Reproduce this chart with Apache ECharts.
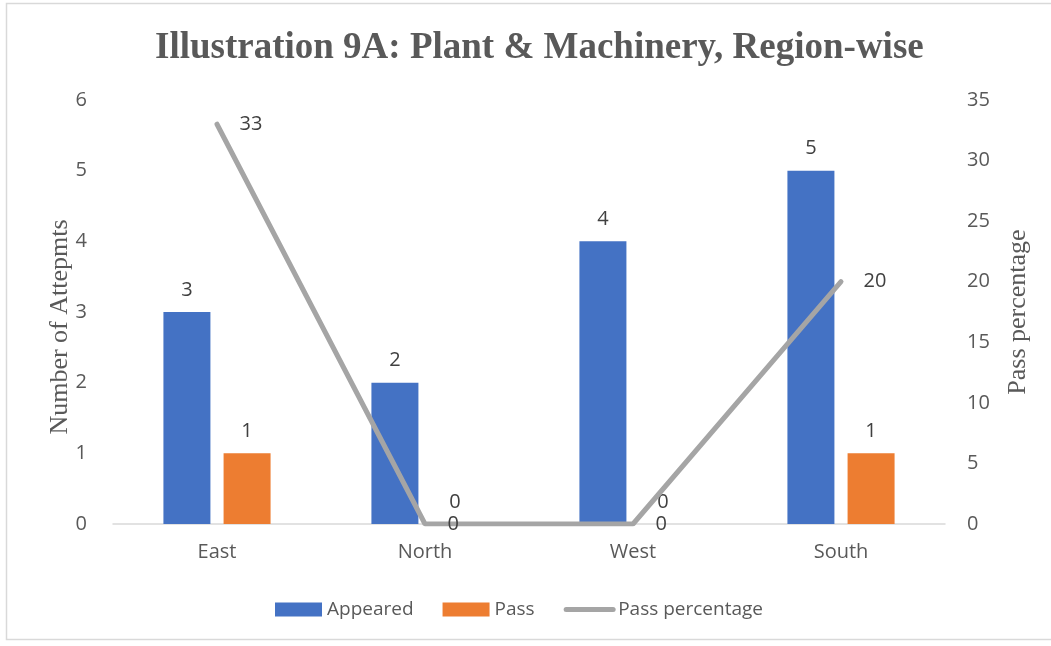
<!DOCTYPE html>
<html>
<head>
<meta charset="utf-8">
<script src="https://cdn.jsdelivr.net/npm/echarts@6/dist/echarts.min.js"></script>
<style>
  html, body { margin: 0; padding: 0; background: #fff; }
  #chart { width: 1051px; height: 646px; }
</style>
</head>
<body>
<div id="chart"></div>
<script>
// data
const regions = ['East', 'North', 'West', 'South']
const appeared = [3, 2, 4, 5]
const pass = [1, 0, 0, 1]
const passPercentage = [33, 0, 0, 20]

const textColor = '#595959'
const labelColor = '#404040'
const sansFont = '"Open Sans", "Liberation Sans", sans-serif'
const serifFont = '"Liberation Serif", "DejaVu Serif", serif'

const chart = echarts.init(document.getElementById('chart'))

const option = {
  animation: false,
  graphic: [
    {
      type: 'rect',
      shape: { x: 6.5, y: 3.5, width: 1060, height: 636 },
      style: { fill: 'none', stroke: '#d9d9d9', lineWidth: 1.5 },
      silent: true
    },
    // left axis title, placed by hand so it sits a little below the plot centre
    {
      type: 'text',
      x: 60,
      y: 327,
      rotation: Math.PI / 2,
      style: {
        text: 'Number of Attepmts',
        fontFamily: serifFont,
        fontSize: 26,
        fill: textColor,
        align: 'center',
        verticalAlign: 'middle'
      },
      silent: true
    }
  ],
  title: {
    text: 'Illustration 9A: Plant & Machinery, Region-wise',
    left: 150,
    top: 25,
    textStyle: {
      fontFamily: serifFont,
      fontWeight: 'bold',
      fontSize: 37,
      color: textColor
    }
  },
  legend: {
    bottom: 22,
    left: 270,
    itemWidth: 47,
    itemHeight: 14,
    itemGap: 29,
    textStyle: { fontFamily: sansFont, fontSize: 19, color: textColor },
    data: [
      { name: 'Appeared', icon: 'rect' },
      { name: 'Pass', icon: 'rect' },
      {
        name: 'Pass percentage',
        itemStyle: { opacity: 0 },
        lineStyle: { color: '#a5a5a5', width: 5, cap: 'round' }
      }
    ]
  },
  grid: {
    left: 113,
    right: 106,
    top: 100,
    bottom: 122
  },
  xAxis: {
    type: 'category',
    data: regions,
    axisTick: { show: false },
    axisLine: { lineStyle: { color: '#d9d9d9', width: 1.5 } },
    axisLabel: { fontFamily: sansFont, fontSize: 20, color: textColor, margin: 18 }
  },
  yAxis: [
    {
      type: 'value',
      min: 0,
      max: 6,
      interval: 1,
      splitLine: { show: false },
      axisLine: { show: false },
      axisTick: { show: false },
      axisLabel: { fontFamily: sansFont, fontSize: 20, color: textColor, margin: 26 }
    },
    {
      type: 'value',
      min: 0,
      max: 35,
      interval: 5,
      name: 'Pass percentage',
      nameLocation: 'middle',
      nameGap: 60,
      nameRotate: 90,
      nameTextStyle: { fontFamily: serifFont, fontSize: 26, color: textColor },
      splitLine: { show: false },
      axisLine: { show: false },
      axisTick: { show: false },
      axisLabel: { fontFamily: sansFont, fontSize: 20, color: textColor, margin: 22 }
    }
  ],
  series: [
    {
      name: 'Appeared',
      type: 'bar',
      data: appeared,
      barWidth: 47,
      barGap: '28%',
      itemStyle: { color: '#4472c4' },
      label: {
        show: true,
        position: 'top',
        distance: 12,
        fontFamily: sansFont,
        fontSize: 20,
        color: labelColor
      }
    },
    {
      name: 'Pass',
      type: 'bar',
      data: pass,
      barWidth: 47,
      itemStyle: { color: '#ed7d31' },
      label: {
        show: true,
        position: 'top',
        distance: 12,
        fontFamily: sansFont,
        fontSize: 20,
        color: labelColor
      }
    },
    {
      name: 'Pass percentage',
      type: 'line',
      yAxisIndex: 1,
      data: passPercentage,
      symbol: 'circle',
      symbolSize: 1,
      z: 5,
      itemStyle: { color: '#a5a5a5' },
      lineStyle: { color: '#a5a5a5', width: 5, cap: 'round' },
      label: {
        show: true,
        position: 'right',
        distance: 22,
        fontFamily: sansFont,
        fontSize: 20,
        color: labelColor
      }
    }
  ]
}

chart.setOption(option)
</script>
</body>
</html>
